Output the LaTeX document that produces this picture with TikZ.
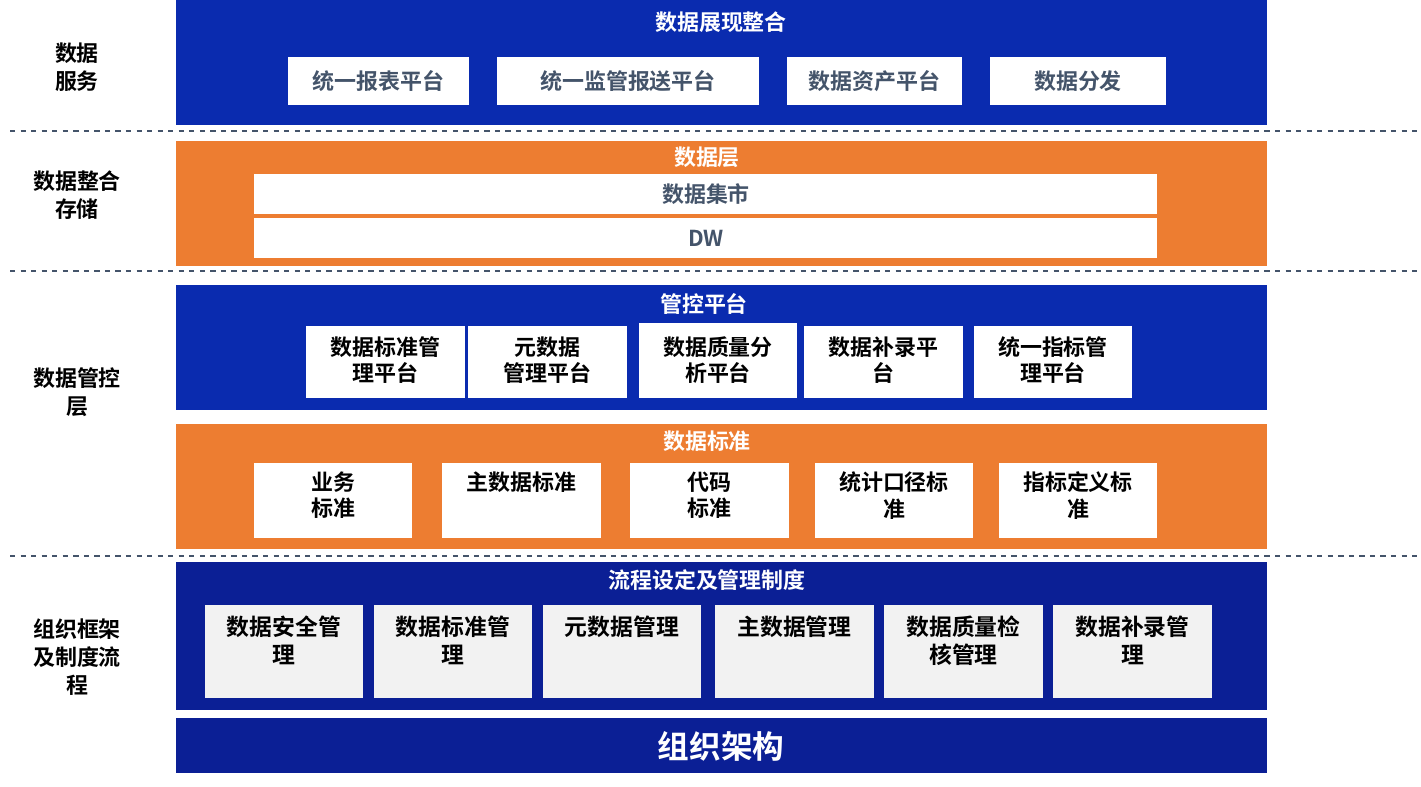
\documentclass[tikz,border=0pt]{standalone}
\usepackage{fontspec}
\setmainfont{Noto Sans CJK SC}[BoldFont={Noto Sans CJK SC Bold}]
\definecolor{bandblue}{HTML}{0A2BAF}
\definecolor{darkblue}{HTML}{0B1F95}
\definecolor{bandorange}{HTML}{ED7D31}
\definecolor{slate}{HTML}{44546A}
\definecolor{lightgray}{HTML}{F2F2F2}
\tikzset{
  band/.style={anchor=north west,inner sep=0pt},
  title/.style={text=white,font=\bfseries\fontsize{12.5}{14}\selectfont},
  cell/.style={fill=white,anchor=north west,inner sep=0pt},
  celltext/.style={font=\bfseries\fontsize{12.5}{15}\selectfont,align=center,inner sep=2pt},
  sidelabel/.style={font=\bfseries\fontsize{12.5}{16}\selectfont,align=center},
  sep/.style={dashed,draw=slate,line width=0.8pt}
}
\begin{document}
\begin{tikzpicture}[x=0.02cm,y=-0.02cm]
\useasboundingbox (0,0) rectangle (1421,787);

% side labels
\node[sidelabel] (l1) at (77,67) {数据\\服务};
\node[sidelabel] (l2) at (77,195) {数据整合\\存储};
\node[sidelabel] (l3) at (77,392) {数据管控\\层};
\node[sidelabel] (l4) at (77,657) {组织框架\\及制度流\\程};

% separators
\draw[sep] (10,131) -- (1420,131);
\draw[sep] (10,271) -- (1420,271);
\draw[sep] (10,556) -- (1420,556);

% data service
\fill[bandblue] (176,0) rectangle (1267,125);
\node[title] (t1) at (721,22) {数据展现整合};
\foreach \xa/\xb/\txt [count=\i] in {288/469/统一报表平台,497/759/统一监管报送平台,787/962/数据资产平台,990/1166/数据分发}{
  \fill[white] (\xa,57) rectangle (\xb,105);
  \node[celltext,text=slate] (s\i) at ({(\xa+\xb)/2},81) {\txt};
}

% storage
\fill[bandorange] (176,141) rectangle (1267,266);
\node[title] (t2) at (707,157) {数据层};
\fill[white] (254,174) rectangle (1157,214);
\node[celltext,text=slate] (mart) at (706,194) {数据集市};
\fill[white] (254,218) rectangle (1157,258);
\node[celltext,text=slate] (dw) at (706,238) {DW};

% control platform
\fill[bandblue] (176,285) rectangle (1267,410);
\node[title] (t3) at (704,304) {管控平台};
\foreach \xa/\xb/\ya/\txt [count=\i] in {306/465/326/数据标准管\\理平台,468/627/326/元数据\\管理平台,639/797/323/数据质量分\\析平台,804/963/326/数据补录平\\台,974/1132/326/统一指标管\\理平台}{
  \fill[white] (\xa,\ya) rectangle (\xb,398);
  \node[celltext] (p\i) at ({(\xa+\xb)/2},360) {\txt};
}

% standards
\fill[bandorange] (176,424) rectangle (1267,549);
\node[title] (t4) at (707,441) {数据标准};
\foreach \xa/\xb/\txt [count=\i] in {254/412/业务\\标准,442/601/主数据标准,630/789/代码\\标准,815/973/统计口径标\\准,999/1157/指标定义标\\准}{
  \fill[white] (\xa,463) rectangle (\xb,538);
  \node[celltext,anchor=north] (d\i) at ({(\xa+\xb)/2},468) {\txt};
}

% process & rules
\fill[darkblue] (176,562) rectangle (1267,710);
\node[title] (t5) at (707,580) {流程设定及管理制度};
\foreach \xa/\xb/\txt [count=\i] in {205/363/数据安全管\\理,374/532/数据标准管\\理,543/701/元数据管理,715/874/主数据管理,884/1043/数据质量检\\核管理,1053/1212/数据补录管\\理}{
  \fill[lightgray] (\xa,605) rectangle (\xb,698);
  \node[celltext,anchor=north,font=\bfseries\fontsize{13}{16}\selectfont] (r\i) at ({(\xa+\xb)/2},612) {\txt};
}

% organization
\fill[darkblue] (176,718) rectangle (1267,773);
\node[text=white,font=\bfseries\fontsize{18}{20}\selectfont] (org) at (721,746) {组织架构};
\end{tikzpicture}
\end{document}
